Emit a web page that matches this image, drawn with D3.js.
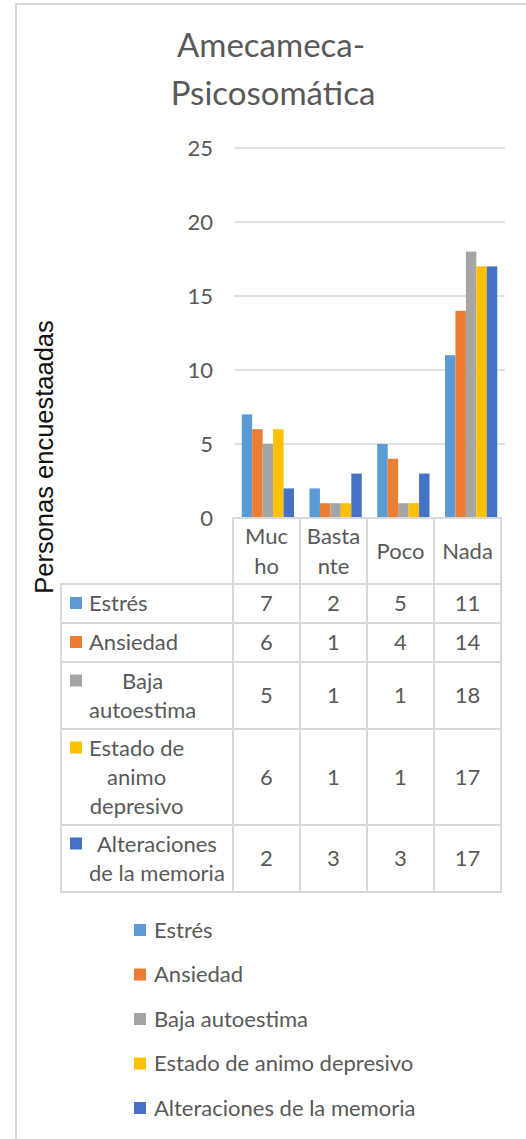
<!doctype html>
<html lang="es">
<head>
    <meta charset="utf-8"/>
    <title>Amecameca-Psicosomática</title>
    <style>
        body { margin: 0; background: #fff; }
        text { font-family: Lato, "Open Sans", sans-serif; fill: #595959; }
        .grid line { stroke: #d9d9d9; stroke-width: 1.5; }
        .cell { stroke: #d9d9d9; stroke-width: 2; fill: none; }
    </style>
    <script src="https://d3js.org/d3.v7.min.js"></script>
</head>
<body>
<svg width="526" height="1139"></svg>
<script>

    // data
    var categories = ["Mucho", "Bastante", "Poco", "Nada"];
    var categoryLines = [["Muc", "ho"], ["Basta", "nte"], ["Poco"], ["Nada"]];
    var seriesNames = ["Estrés", "Ansiedad", "Baja autoestima", "Estado de animo depresivo", "Alteraciones de la memoria"];
    var seriesLines = [["Estrés"], ["Ansiedad"], ["Baja", "autoestima"], ["Estado de", "animo", "depresivo"], ["Alteraciones", "de la memoria"]];
    var estres = [7, 2, 5, 11];
    var ansiedad = [6, 1, 4, 14];
    var bajaAutoestima = [5, 1, 1, 18];
    var estadoAnimo = [6, 1, 1, 17];
    var alteraciones = [2, 3, 3, 17];
    var colors = ["#5b9bd5", "#ed7d31", "#a5a5a5", "#ffc000", "#4472c4"];
    var yTicks = [0, 5, 10, 15, 20, 25];

    var values = [estres, ansiedad, bajaAutoestima, estadoAnimo, alteraciones];

    var svg = d3.select("svg");

    // chart frame
    svg.append("rect")
       .attr("x", 16).attr("y", 4)
       .attr("width", 530).attr("height", 1160)
       .attr("fill", "none")
       .attr("stroke", "#d9d9d9")
       .attr("stroke-width", 2);

    // title
    svg.append("text")
       .attr("x", 271).attr("y", 57)
       .attr("text-anchor", "middle")
       .attr("font-size", "33px")
       .text("Amecameca-");
    svg.append("text")
       .attr("x", 273).attr("y", 105)
       .attr("text-anchor", "middle")
       .attr("font-size", "33px")
       .text("Psicosomática");

    var x = d3.scaleBand().domain(categories).range([234, 505]),
        xs = d3.scaleBand().domain(seriesNames).range([0, x.bandwidth()]).paddingOuter(0.74),
        y = d3.scaleLinear().domain([0, 25]).range([518, 148]);

    // gridlines
    svg.append("g")
       .attr("class", "grid")
       .selectAll("line")
       .data(yTicks.slice(1))
       .enter().append("line")
       .attr("x1", 234).attr("x2", 505)
       .attr("y1", function(d) { return y(d); })
       .attr("y2", function(d) { return y(d); });

    var yAxis = svg.append("g")
       .attr("transform", "translate(234,0)")
       .call(d3.axisLeft(y).tickValues(yTicks).tickSize(0).tickPadding(21));
    yAxis.select(".domain").remove();
    yAxis.selectAll("text")
       .attr("font-family", "Lato, sans-serif")
       .attr("font-size", "22px")
       .attr("fill", "#595959");

    // axis title
    svg.append("text")
       .attr("transform", "translate(53,457) rotate(-90)")
       .attr("text-anchor", "middle")
       .attr("font-size", "25.5px")
       .style("font-family", "'Liberation Sans', Arial, sans-serif")
       .style("fill", "#111")
       .text("Personas encuestaadas");

    // bars
    var groups = svg.selectAll(".serie")
       .data(values)
       .enter().append("g")
       .attr("class", "serie")
       .attr("fill", function(d, i) { return colors[i]; });

    groups.each(function(vals, si) {
        d3.select(this).selectAll("rect")
          .data(vals)
          .enter().append("rect")
          .attr("x", function(d, ci) { return x(categories[ci]) + xs(seriesNames[si]); })
          .attr("y", function(d) { return y(d); })
          .attr("width", xs.bandwidth())
          .attr("height", function(d) { return y(0) - y(d); });
    });

    // data table
    var xt = d3.scaleBand().domain(categories).range([233, 501]);
    var rowEdges = [518, 584, 623, 662, 729, 825, 892];
    var lineH = 29;

    var table = svg.append("g");

    // header cells
    categories.forEach(function(c, ci) {
        table.append("rect").attr("class", "cell")
             .attr("x", xt(c)).attr("y", rowEdges[0])
             .attr("width", xt.bandwidth()).attr("height", rowEdges[1] - rowEdges[0]);
        var cy = (rowEdges[0] + rowEdges[1]) / 2;
        var lines = categoryLines[ci];
        lines.forEach(function(t, li) {
            table.append("text")
                 .attr("x", xt(c) + xt.bandwidth() / 2)
                 .attr("y", cy + (li - (lines.length - 1) / 2) * 30 + 7.5)
                 .attr("text-anchor", "middle")
                 .attr("font-size", "22px")
                 .text(t);
        });
    });

    seriesNames.forEach(function(s, si) {
        var top = rowEdges[si + 1], bottom = rowEdges[si + 2];
        var cy = (top + bottom) / 2;

        table.append("rect").attr("class", "cell")
             .attr("x", 61).attr("y", top)
             .attr("width", 233 - 61).attr("height", bottom - top);

        var lines = seriesLines[si];
        var texts = lines.map(function(t, li) {
            return table.append("text")
                 .attr("y", cy + (li - (lines.length - 1) / 2) * lineH + 7.5)
                 .attr("text-anchor", "middle")
                 .attr("font-size", "22px")
                 .text(t);
        });
        var maxW = d3.max(texts, function(t) { return t.node().getComputedTextLength(); });
        texts.forEach(function(t) { t.attr("x", 89 + maxW / 2); });

        var firstBase = cy - (lines.length - 1) / 2 * lineH + 7.5;
        table.append("rect")
             .attr("x", 70).attr("y", firstBase - 14)
             .attr("width", 12).attr("height", 12)
             .attr("fill", colors[si]);

        categories.forEach(function(c, ci) {
            table.append("rect").attr("class", "cell")
                 .attr("x", xt(c)).attr("y", top)
                 .attr("width", xt.bandwidth()).attr("height", bottom - top);
            table.append("text")
                 .attr("x", xt(c) + xt.bandwidth() / 2)
                 .attr("y", cy + 7.5)
                 .attr("text-anchor", "middle")
                 .attr("font-size", "22px")
                 .text(values[si][ci]);
        });
    });

    // legend
    var ly = d3.scalePoint().domain(seriesNames).range([930, 1108]);
    var legend = svg.selectAll(".legend")
       .data(seriesNames)
       .enter().append("g")
       .attr("class", "legend")
       .attr("transform", function(d) { return "translate(134," + ly(d) + ")"; });
    legend.append("rect")
       .attr("y", -6).attr("width", 12).attr("height", 12)
       .attr("fill", function(d, i) { return colors[i]; });
    legend.append("text")
       .attr("x", 20).attr("y", 7.5)
       .attr("font-size", "22px")
       .text(function(d) { return d; });

</script>
</body>
</html>
